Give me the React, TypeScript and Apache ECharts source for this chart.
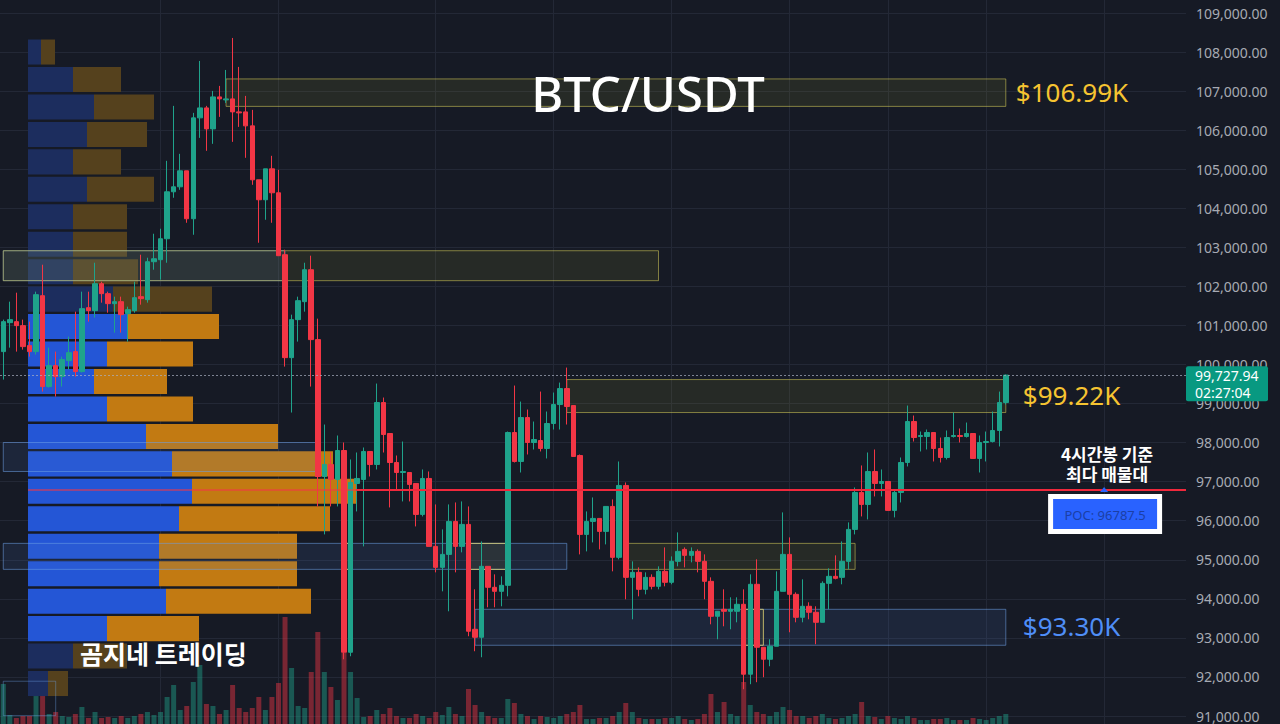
import React, { useEffect, useRef } from "react";
import * as echarts from "echarts";

// ---------- data ----------
// [open, close, low, high] — BTC/USDT 4h candles
const CANDLES: number[][] = [
  [100330, 101097, 99614, 101149], [101072, 101149, 100432, 101609], [101097, 100995, 100330, 101839],
  [100995, 100458, 100381, 101149], [100484, 100330, 100202, 101097], [100330, 101788, 100253, 101865],
  [101762, 99435, 99307, 102555], [99435, 99972, 99409, 100432], [99972, 99691, 99179, 100330],
  [99691, 100125, 99435, 100202], [100100, 100304, 99870, 100714], [100330, 99819, 99691, 101353],
  [99819, 101430, 99793, 101865], [101455, 101379, 101097, 101865], [101379, 102069, 101200, 102606],
  [102069, 101814, 101583, 102120], [101814, 101558, 101327, 101865], [101558, 101609, 100816, 101737],
  [101609, 101276, 100816, 101737], [101302, 101404, 100586, 101481], [101379, 101711, 101327, 102120],
  [101737, 101686, 101532, 102811], [101660, 102632, 101583, 102734], [102632, 102708, 102427, 103348],
  [102683, 103220, 102172, 103476], [103220, 104422, 102606, 105215], [104422, 104550, 104269, 106622],
  [104550, 104959, 104473, 105394], [104959, 103732, 103629, 104959], [103732, 106315, 103322, 106443],
  [106315, 106570, 105803, 107772], [106570, 106033, 105471, 106622], [106033, 106852, 105650, 107005],
  [106852, 106801, 106340, 107133], [106775, 106801, 106698, 107542], [106801, 106468, 105701, 108361],
  [106468, 106443, 106084, 107619], [106468, 106110, 105292, 106877], [106110, 104729, 104601, 106519],
  [104729, 104218, 103118, 104729], [104218, 105010, 103706, 105010], [105010, 104397, 103629, 105343],
  [104397, 102786, 102786, 104985], [102811, 100176, 99946, 102939], [100176, 101149, 98770, 101276],
  [101149, 101634, 100586, 101737], [101609, 102427, 101353, 102606], [102427, 100637, 99435, 102786],
  [100637, 97133, 96366, 101174], [97133, 97440, 95650, 98463], [97440, 97057, 96366, 97747],
  [97057, 97798, 96366, 98182], [97798, 92632, 92453, 98003], [92632, 96980, 92530, 97568],
  [96954, 97082, 96238, 97747], [97057, 97773, 95343, 97875], [97773, 97440, 97133, 97773],
  [97440, 99026, 97312, 99512], [99026, 98207, 97747, 99154], [98233, 97491, 96340, 98233],
  [97491, 97235, 96801, 97670], [97235, 97261, 96494, 98028], [97235, 96929, 96494, 97235],
  [96954, 96161, 95854, 96954], [96161, 97082, 96110, 97312], [97082, 95343, 95343, 97261],
  [95343, 94806, 94678, 96417], [94806, 95138, 94192, 95778], [95138, 95982, 93681, 96417],
  [95982, 95343, 94678, 96468], [95343, 95906, 95190, 96494], [95906, 93170, 93042, 96366],
  [93220, 93016, 92658, 94243], [93016, 94832, 92504, 95471], [94832, 94295, 93784, 94832],
  [94295, 94192, 93784, 94627], [94192, 94346, 93809, 94576], [94346, 98259, 94064, 98284],
  [98259, 97517, 97491, 99461], [97517, 98642, 97235, 99051], [98642, 98003, 97696, 98847],
  [98003, 98079, 97824, 98540], [98054, 97850, 97773, 99307], [97850, 98489, 97594, 98796],
  [98489, 98975, 98335, 99282], [98975, 99384, 98335, 99537], [99384, 98924, 98463, 99921],
  [98949, 97645, 97645, 98949], [97670, 95650, 95138, 97696], [95650, 95982, 95215, 96238],
  [95982, 96059, 95445, 96596], [96059, 95727, 95266, 96059], [95727, 96366, 95394, 96366],
  [96366, 95062, 94704, 96545], [95062, 96903, 95011, 97517], [96903, 94550, 93988, 96980],
  [94550, 94678, 93476, 94960], [94678, 94243, 94064, 94806], [94243, 94550, 94115, 94678],
  [94550, 94320, 94243, 94627], [94320, 94704, 94243, 94832], [94704, 94423, 94320, 95317],
  [94423, 94960, 94372, 95087], [94960, 95215, 94832, 95701], [95266, 95113, 94806, 95317],
  [95113, 95215, 94934, 95317], [95215, 94960, 94678, 95266], [94960, 94448, 93988, 95138],
  [94448, 93553, 93348, 94550], [93553, 93681, 92965, 93681], [93732, 93681, 93297, 94243],
  [93681, 93732, 93220, 94039], [93681, 93860, 93399, 94039], [93860, 92070, 91686, 94243],
  [92070, 94372, 91814, 94627], [94372, 92760, 91865, 95011], [92760, 92453, 91993, 92760],
  [92453, 92786, 92274, 92965], [92786, 94192, 92786, 94704], [94192, 95138, 94192, 96213],
  [95138, 94115, 93144, 95573], [94115, 93527, 93399, 94166], [93527, 93809, 93399, 94499],
  [93809, 93655, 93476, 93911], [93655, 93399, 92837, 93809], [93399, 94397, 93399, 94448],
  [94397, 94576, 93732, 94781], [94576, 94525, 94499, 95113], [94550, 94960, 94372, 95471],
  [94960, 95778, 94755, 95957], [95778, 96724, 95650, 96852], [96724, 96417, 96110, 97415],
  [96417, 97261, 96033, 97747], [97261, 96954, 96622, 97824], [96954, 97005, 96622, 97312],
  [97005, 96264, 96264, 97005], [96264, 96724, 96085, 96801], [96724, 97491, 96468, 97619],
  [97491, 98540, 97389, 98949], [98540, 98130, 98028, 98693], [98156, 98182, 97773, 98284],
  [98156, 98259, 97824, 98335], [98259, 97850, 97517, 98259], [97850, 97619, 97491, 98130],
  [97619, 98130, 97568, 98310], [98156, 98182, 98130, 98770], [98182, 98156, 98003, 98361],
  [98156, 98233, 98130, 98514], [98233, 97594, 97594, 98233], [97594, 98003, 97235, 98182],
  [98003, 98028, 97517, 98284], [98028, 98310, 98003, 98796], [98310, 99026, 97901, 99307],
  [99026, 99727.94, 98975, 99742],
];

// volume per candle (thousand BTC)
const VOLUME_K: number[] = [
  4.0, 0.9, 0.6, 0.8, 0.8, 2.9, 3.1, 1.0, 1.2, 0.8,
  0.7, 1.0, 1.7, 0.6, 1.2, 0.6, 0.7, 0.6, 0.8, 0.6,
  0.8, 1.0, 1.2, 0.9, 1.2, 2.7, 3.9, 1.4, 1.8, 4.2,
  5.9, 2.0, 1.8, 1.0, 1.4, 3.9, 1.6, 1.2, 1.6, 2.7,
  1.4, 2.7, 4.1, 10.7, 5.6, 1.8, 1.6, 5.2, 9.2, 5.2,
  3.7, 2.4, 7.1, 5.2, 2.6, 0.7, 0.8, 1.4, 1.0, 1.6,
  0.8, 0.6, 0.6, 1.0, 0.8, 0.6, 1.2, 0.9, 1.7, 1.0,
  0.8, 3.5, 1.9, 1.2, 0.8, 0.6, 0.6, 2.5, 2.1, 1.0,
  0.8, 0.5, 0.8, 0.7, 0.6, 0.8, 1.0, 1.2, 1.9, 0.5,
  0.5, 0.6, 0.6, 0.8, 1.2, 2.1, 1.2, 0.6, 0.5, 0.5,
  0.5, 0.6, 0.6, 0.8, 0.5, 0.4, 0.5, 1.0, 3.0, 1.2,
  2.2, 1.0, 0.8, 4.2, 1.9, 1.2, 1.0, 0.8, 1.2, 1.7,
  1.4, 0.8, 0.8, 0.6, 0.8, 1.0, 0.6, 0.5, 0.6, 0.8,
  1.0, 2.2, 0.8, 0.7, 0.5, 0.8, 0.6, 0.5, 0.8, 0.6,
  0.4, 0.4, 0.5, 0.5, 0.6, 0.4, 0.4, 0.4, 0.6, 0.5,
  0.4, 0.6, 0.8, 1.0,
];

// volume profile (bottom bin -> top bin)
const PROFILE_BIN_START = 91480;
const PROFILE_BIN_SIZE = 703;
const PROFILE_UP: number[] = [20, 45, 79, 138, 131, 131, 151, 164, 144, 118, 79, 66, 79, 99, 85, 45, 45, 45, 59, 45, 59, 66, 45, 13];
const PROFILE_DOWN: number[] = [20, 54, 92, 145, 138, 138, 151, 164, 161, 132, 86, 73, 86, 92, 99, 65, 54, 54, 67, 48, 60, 60, 48, 14];
const VALUE_AREA_BINS: number[] = [2, 13];
const POC_BIN = 7;
const POC_PRICE = 96787.5;
const LAST_PRICE = 99727.94;
const COUNTDOWN = "02:27:04";

const Y_TICKS: number[] = [91000, 109000, 1000]; // min, max, step
const SLOT_COUNT = 181;
const SESSION_LINES: number[] = [24, 42, 66, 84, 102, 120, 135, 150, 168];

type Zone = { from: number; to: number; hi: number; lo: number; kind: string; label?: string; labelPrice?: number; labelColor?: string; labelGap?: number };
const ZONES: Zone[] = [
  { from: 34, to: 153, hi: 107312, lo: 106609, kind: "yellow", label: "$106.99K", labelPrice: 106990, labelColor: "#f6c431", labelGap: 10 },
  { from: 0, to: 43, hi: 102913, lo: 102146, kind: "blue" },
  { from: 0, to: 100, hi: 102913, lo: 102146, kind: "yellow" },
  { from: 0, to: 48, hi: 98003, lo: 97261, kind: "blue" },
  { from: 86, to: 153, hi: 99614, lo: 98770, kind: "yellow", label: "$99.22K", labelPrice: 99220, labelColor: "#f6c431", labelGap: 17 },
  { from: 0, to: 86, hi: 95420, lo: 94755, kind: "blue" },
  { from: 52, to: 53, hi: 95420, lo: 94755, kind: "yellowBox" },
  { from: 71, to: 77, hi: 95420, lo: 94755, kind: "yellowBox" },
  { from: 95, to: 130, hi: 95420, lo: 94755, kind: "yellow" },
  { from: 72, to: 153, hi: 93732, lo: 92811, kind: "blue", label: "$93.30K", labelPrice: 93300, labelColor: "#4f8ef7", labelGap: 17 },
  { from: 113, to: 116, hi: 93732, lo: 92811, kind: "yellowBox" },
  { from: 0, to: 8, hi: 91890, lo: 91010, kind: "blueBox" },
];

// ---------- styles ----------
const BG = "#161a25";
const GRID_LINE = "#232836";
const UP = "#1fa38b";
const DOWN = "#f23645";
const ZONE_STYLE: Record<string, any> = {
  yellow: { color: "rgba(140,140,50,0.14)", borderColor: "rgba(215,205,90,0.55)", borderWidth: 1 },
  blue: { color: "rgba(80,125,200,0.13)", borderColor: "rgba(110,160,230,0.55)", borderWidth: 1 },
  yellowBox: { color: "rgba(150,150,60,0.12)", borderColor: "rgba(240,225,120,0.75)", borderWidth: 1 },
  blueBox: { color: "rgba(0,0,0,0)", borderColor: "rgba(110,160,230,0.4)", borderWidth: 1 },
};
const PLOT_RIGHT = 94; // space for price scale
const PROFILE_LEFT = 28;
const PROFILE_AXIS_MAX = 1280 - PLOT_RIGHT - PROFILE_LEFT;

export default function App() {
  const ref = useRef<HTMLDivElement>(null);

  useEffect(() => {
    const chart = echarts.init(ref.current!, null, { renderer: "svg" });
    const categories = Array.from({ length: SLOT_COUNT }, (_, i) => String(i));
    const [yMin, yMax, yStep] = Y_TICKS;

    const profileData = PROFILE_UP.map((u, k) => [
      PROFILE_BIN_START + k * PROFILE_BIN_SIZE,
      PROFILE_BIN_START + (k + 1) * PROFILE_BIN_SIZE,
      u,
      PROFILE_DOWN[k],
      k >= VALUE_AREA_BINS[0] && k <= VALUE_AREA_BINS[1] ? 1 : 0,
    ]);
    const pocWidth = PROFILE_UP[POC_BIN] + PROFILE_DOWN[POC_BIN];

    const option: any = {
      animation: false,
      backgroundColor: BG,
      grid: [
        { left: 0, right: PLOT_RIGHT, top: 13, bottom: 8 },
        { left: 0, right: PLOT_RIGHT, top: 0, bottom: 0 },
        { left: PROFILE_LEFT, right: PLOT_RIGHT, top: 13, bottom: 8 },
      ],
      xAxis: [
        { type: "category", data: categories, gridIndex: 0, show: false, boundaryGap: true },
        { type: "category", data: categories, gridIndex: 1, show: false, boundaryGap: true },
        { type: "value", gridIndex: 2, min: 0, max: PROFILE_AXIS_MAX, show: false },
      ],
      yAxis: [
        {
          type: "value", gridIndex: 0, position: "right", min: yMin, max: yMax, interval: yStep,
          axisLine: { show: false }, axisTick: { show: false },
          splitLine: { show: true, lineStyle: { color: GRID_LINE, width: 1 } },
          axisLabel: {
            color: "#a7aab3", fontSize: 14, fontFamily: "Noto Sans", margin: 10,
            formatter: (v: number) => v.toLocaleString("en-US", { minimumFractionDigits: 2, maximumFractionDigits: 2 }),
          },
        },
        { type: "value", gridIndex: 1, min: 0, max: 72.4, show: false },
        { type: "value", gridIndex: 2, min: yMin, max: yMax, show: false },
      ],
      series: [
        {
          name: "Volume", type: "bar", xAxisIndex: 1, yAxisIndex: 1, z: 0, barWidth: 5,
          data: VOLUME_K.map((v, i) => ({
            value: v,
            itemStyle: { color: CANDLES[i][1] >= CANDLES[i][0] ? "rgba(31,163,139,0.45)" : "rgba(242,54,69,0.45)" },
          })),
          markLine: {
            z: 0, silent: true, symbol: "none", label: { show: false },
            lineStyle: { color: GRID_LINE, type: "solid", width: 1 },
            data: SESSION_LINES.map((i) => ({ xAxis: String(i) })),
          },
        },
        {
          name: "Profile", type: "custom", xAxisIndex: 2, yAxisIndex: 2, z: 1, silent: true,
          encode: { x: [2, 3], y: [0, 1] },
          data: profileData,
          renderItem: (_params: any, api: any) => {
            const lo = api.value(0), hi = api.value(1), up = api.value(2), dn = api.value(3), va = api.value(4);
            const p0 = api.coord([0, hi]);
            const p1 = api.coord([up, lo]);
            const p2 = api.coord([up + dn, lo]);
            const h = p1[1] - p0[1];
            return {
              type: "group",
              children: [
                { type: "rect", shape: { x: p0[0], y: p0[1] + 1.2, width: p1[0] - p0[0], height: h - 2.4 }, style: { fill: va ? "#2456d6" : "#1c2d5e" } },
                { type: "rect", shape: { x: p1[0], y: p0[1] + 1.2, width: p2[0] - p1[0], height: h - 2.4 }, style: { fill: va ? "#c27a12" : "#55411d" } },
              ],
            };
          },
        },
        {
          name: "BTC/USDT", type: "candlestick", xAxisIndex: 0, yAxisIndex: 0, z: 3, barWidth: 5,
          data: CANDLES,
          itemStyle: { color: UP, color0: DOWN, borderColor: UP, borderColor0: DOWN, borderWidth: 1 },
          markArea: {
            z: 2, silent: true, label: { show: false },
            data: ZONES.map((zn) => [
              { xAxis: String(zn.from), yAxis: zn.hi, itemStyle: ZONE_STYLE[zn.kind] },
              { xAxis: String(zn.to), yAxis: zn.lo },
            ]),
          },
          markLine: {
            silent: true, symbol: "none", label: { show: false },
            lineStyle: { color: "rgba(170,176,192,0.7)", type: [2, 2], width: 1 },
            data: [{ yAxis: LAST_PRICE }],
          },
        },
        {
          name: "POC in profile", type: "line", xAxisIndex: 2, yAxisIndex: 2, z: 4, symbol: "none", silent: true,
          lineStyle: { color: "rgba(242,54,69,0.55)", width: 2 },
          data: [[0, POC_PRICE], [pocWidth, POC_PRICE]],
        },
        {
          name: "POC", type: "line", xAxisIndex: 2, yAxisIndex: 2, z: 5, symbol: "none", silent: true,
          lineStyle: { color: "#f0283c", width: 2 },
          data: [[pocWidth, POC_PRICE], [PROFILE_AXIS_MAX, POC_PRICE]],
        },
      ],
    };
    chart.setOption(option);

    const yPx = (p: number) => chart.convertToPixel({ yAxisIndex: 0 }, p) as number;
    const xPx = (i: number) => chart.convertToPixel({ xAxisIndex: 0 }, String(i)) as number;
    const yPoc = yPx(POC_PRICE);
    const yLast = yPx(LAST_PRICE);
    const pocX = xPx(SESSION_LINES[SESSION_LINES.length - 1]);
    const plotRight = 1280 - PLOT_RIGHT;

    const txt = (text: string, x: number, y: number, size: number, fill: string, align: string, weight: any = "normal", family = "Noto Sans", lineHeight?: number) => ({
      type: "text", x, y, z: 20,
      style: {
        text, x: 0, y: 0, fill, fontSize: size, fontWeight: weight, fontFamily: family,
        textAlign: align, align, textVerticalAlign: "middle", verticalAlign: "middle",
        lineHeight: lineHeight ?? Math.round(size * 1.2),
      },
    });

    const graphics: any[] = [
      txt("BTC/USDT", 648, 93, 49, "#ffffff", "center", 500),
      ...ZONES.filter((z) => z.label).map((z) =>
        txt(z.label!, xPx(z.to) + (z.labelGap ?? 12), yPx(z.labelPrice!), 26, z.labelColor!, "left")
      ),
      txt("곰지네 트레이딩", 80, 653, 25, "#ffffff", "left", "bold", "Noto Sans CJK KR"),
      txt("4시간봉 기준\n최다 매물대", pocX + 3, yPoc - 26, 17, "#ffffff", "center", "bold", "Noto Sans CJK KR", 20),
      { type: "rect", z: 19, shape: { x: pocX - 56, y: yPoc + 4, width: 114, height: 40 }, style: { fill: "#ffffff" } },
      { type: "rect", z: 19, shape: { x: pocX - 51, y: yPoc + 9, width: 104, height: 30 }, style: { fill: "#2962ff" } },
      { type: "polygon", z: 19, shape: { points: [[pocX - 4, yPoc + 2], [pocX + 4, yPoc + 2], [pocX, yPoc - 3]] }, style: { fill: "#2962ff" } },
      txt("POC: 96787.5", pocX + 1, yPoc + 25, 13, "#1b3fa6", "center"),
      { type: "rect", z: 19, shape: { x: plotRight, y: yLast - 9, width: 82, height: 35, r: 2 }, style: { fill: "#089981" } },
      txt(LAST_PRICE.toLocaleString("en-US", { minimumFractionDigits: 2 }) + "\n" + COUNTDOWN, plotRight + 9, yLast + 8.5, 14, "#ffffff", "left", "normal", "Noto Sans", 17),
    ];
    chart.setOption({ graphic: graphics });

    return () => chart.dispose();
  }, []);

  return (
    <div
      ref={ref}
      style={{ position: "fixed", left: 0, top: 0, width: 1280, height: 724, background: BG }}
    />
  );
}
